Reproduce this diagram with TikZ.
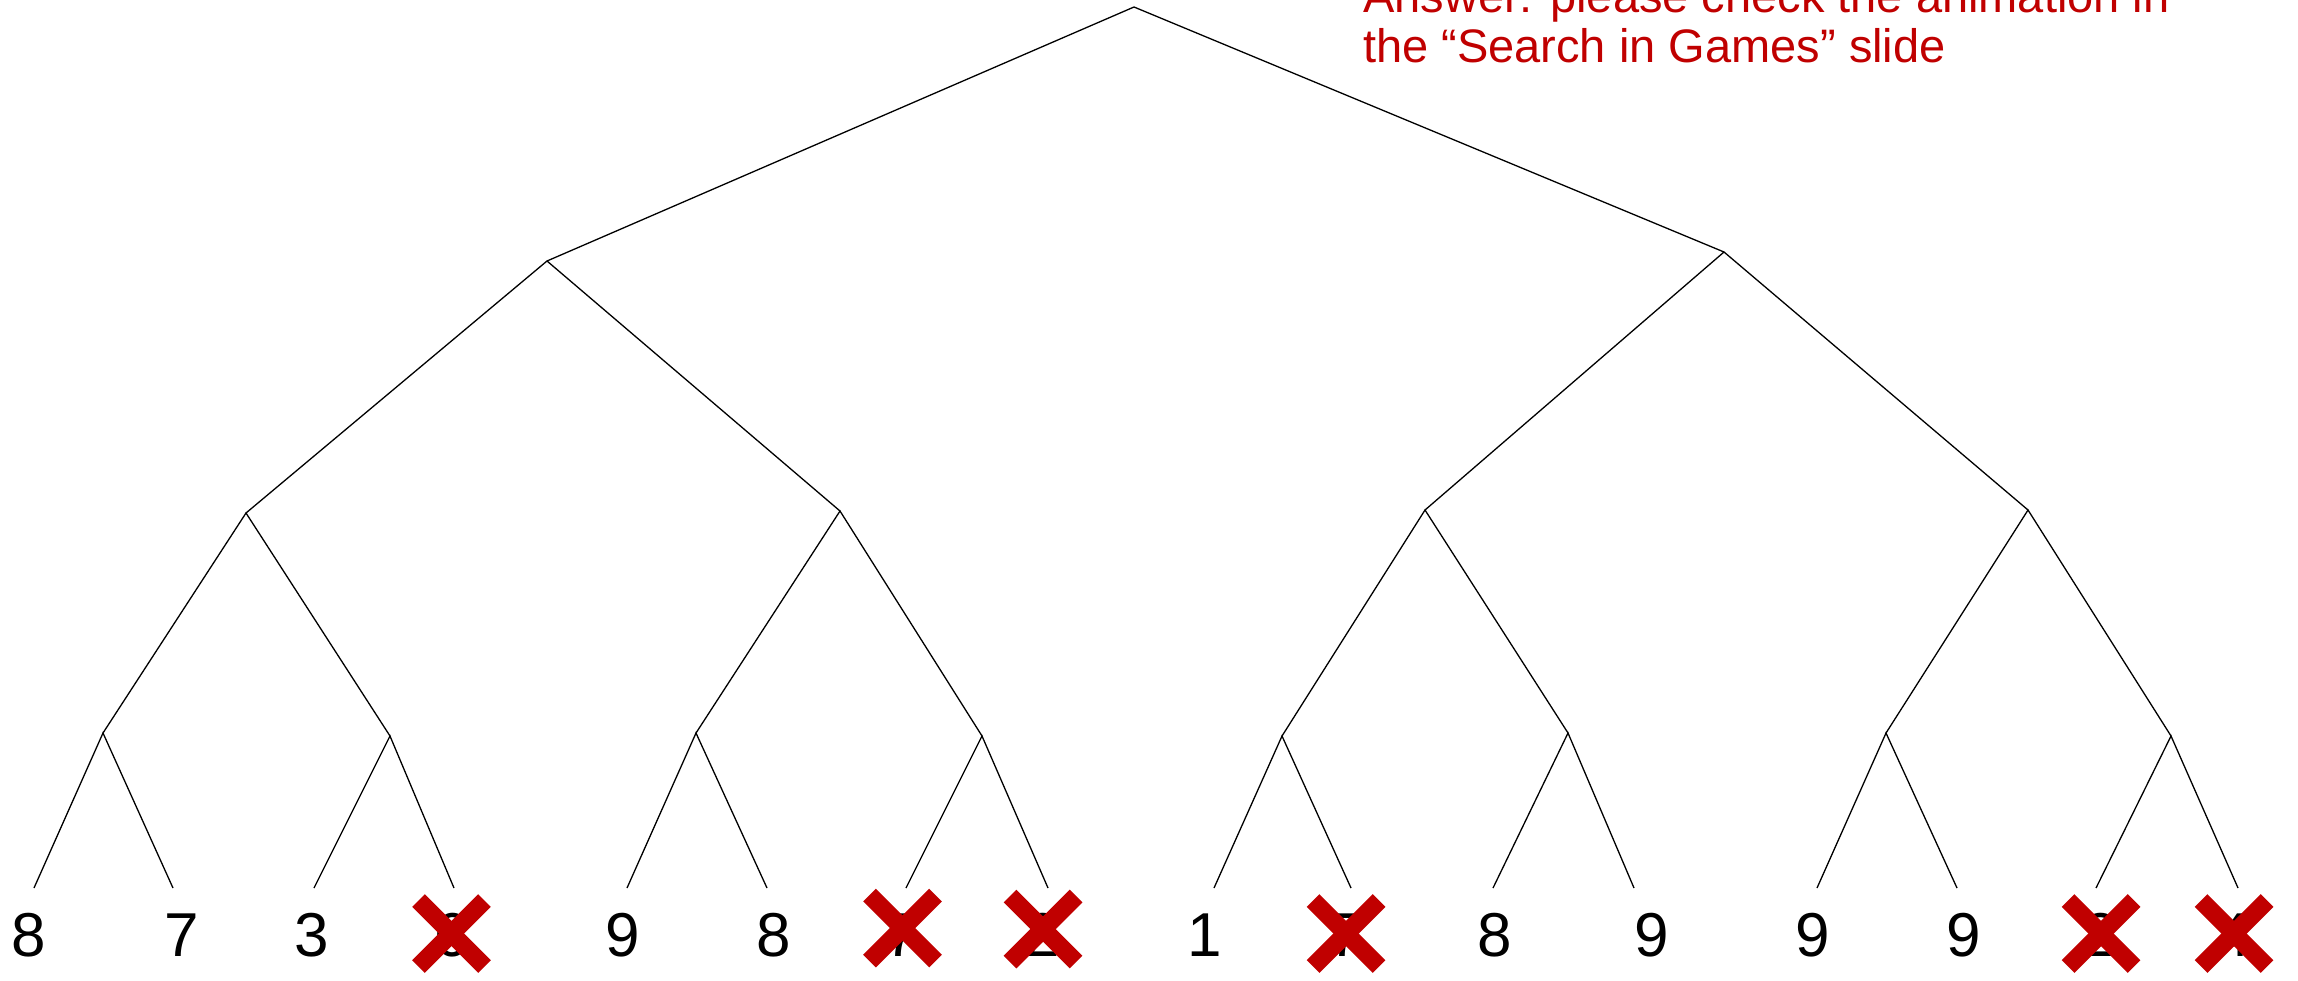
\documentclass[tikz,border=0pt]{standalone}
\usepackage{fontspec}
\setmainfont{Liberation Sans}
\definecolor{xred}{RGB}{192,0,0}
\begin{document}
\begin{tikzpicture}[x=1pt,y=-1pt,
  edge/.style={draw=black,line width=1.3pt},
  leafnum/.style={anchor=base,inner sep=0pt,font=\fontsize{62}{70}\selectfont},
  note/.style={anchor=base west,inner sep=0pt,text=xred,font=\fontsize{47}{50}\selectfont},
  xmark/.style={draw=xred,line width=18pt,line cap=butt}]
\useasboundingbox (0,0) rectangle (2298,980);
\clip (0,0) rectangle (2298,980);
% tree points
\coordinate (r) at (1134,7);
\coordinate (a) at (547,261);
\coordinate (b) at (1724,252);
\coordinate (aa) at (246,513);
\coordinate (ab) at (840,511);
\coordinate (ba) at (1425,510);
\coordinate (bb) at (2028,510);
\coordinate (aaa) at (103,733);
\coordinate (aab) at (390,736);
\coordinate (aba) at (696,733);
\coordinate (abb) at (982,736);
\coordinate (baa) at (1282,736);
\coordinate (bab) at (1568,733);
\coordinate (bba) at (1886,733);
\coordinate (bbb) at (2171,736);
\foreach \n/\x in {l1/34,l2/173,l3/314,l4/454,l5/627,l6/767,l7/906,l8/1048,l9/1214,l10/1351,l11/1493,l12/1634,l13/1817,l14/1957,l15/2096,l16/2238}
  \coordinate (\n) at (\x,888);
% edges
\draw[edge] (a) -- (r) -- (b);
\draw[edge] (aa) -- (a) -- (ab);
\draw[edge] (ba) -- (b) -- (bb);
\draw[edge] (aaa) -- (aa) -- (aab);
\draw[edge] (aba) -- (ab) -- (abb);
\draw[edge] (baa) -- (ba) -- (bab);
\draw[edge] (bba) -- (bb) -- (bbb);
\draw[edge] (l1) -- (aaa) -- (l2);
\draw[edge] (l3) -- (aab) -- (l4);
\draw[edge] (l5) -- (aba) -- (l6);
\draw[edge] (l7) -- (abb) -- (l8);
\draw[edge] (l9) -- (baa) -- (l10);
\draw[edge] (l11) -- (bab) -- (l12);
\draw[edge] (l13) -- (bba) -- (l14);
\draw[edge] (l15) -- (bbb) -- (l16);
% leaf values
\node[leafnum] (v1) at (29,956) {8};
\node[leafnum] (v2) at (182,956) {7};
\node[leafnum] (v3) at (312,956) {3};
\node[leafnum] (v4) at (452,956) {6};
\node[leafnum] (v5) at (623,956) {9};
\node[leafnum] (v6) at (774,956) {8};
\node[leafnum] (v7) at (902,956) {7};
\node[leafnum] (v8) at (1043,956) {2};
\node[leafnum] (v9) at (1205,956) {1};
\node[leafnum] (v10) at (1346,956) {7};
\node[leafnum] (v11) at (1495,956) {8};
\node[leafnum] (v12) at (1652,956) {9};
\node[leafnum] (v13) at (1813,956) {9};
\node[leafnum] (v14) at (1964,956) {9};
\node[leafnum] (v15) at (2101,956) {2};
\node[leafnum] (v16) at (2234,956) {4};
% crosses
\foreach \n/\x/\y in {c1/451.5/933.5,c2/902.5/928,c3/1043/929,c4/1346/933.5,c5/2101/933.5,c6/2234/933.5}{
  \coordinate (\n) at (\x,\y);
  \draw[xmark] (\n) ++(-33,-33) -- ++(66,66);
  \draw[xmark] (\n) ++(-33,33) -- ++(66,-66);
}
% note
\node[note] (n1) at (1363,12) {Answer: please check the animation in};
\node[note] (n2) at (1363,62) {the “Search in Games” slide};
\end{tikzpicture}
\end{document}
